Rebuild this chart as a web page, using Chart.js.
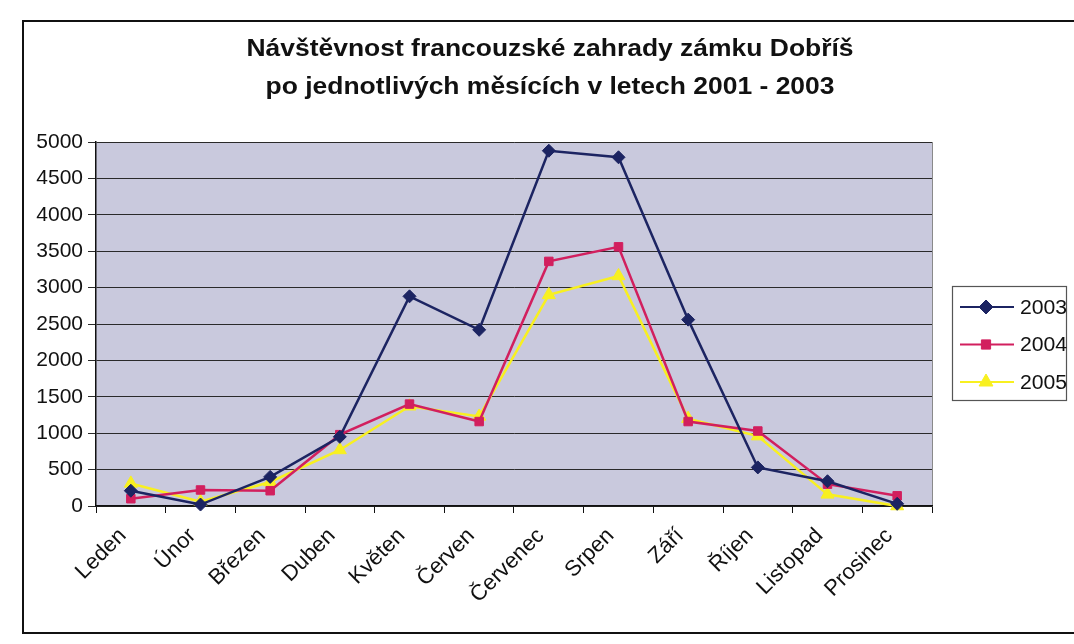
<!DOCTYPE html>
<html>
<head>
<meta charset="utf-8">
<script src="https://cdn.jsdelivr.net/npm/chart.js@4/dist/chart.umd.min.js"></script>
<style>
  html, body { margin: 0; padding: 0; background: #fff; overflow: hidden; }
  #frame { position: absolute; left: 22px; top: 20px; width: 1060px; height: 614px;
           border: 2px solid #111; box-sizing: border-box; }
  #wrap { position: absolute; left: 0; top: 0; width: 1050px; height: 610px; }
</style>
</head>
<body>
<div id="frame"><div id="wrap"><canvas id="c"></canvas></div></div>
<script>
const categories = ['Leden','Únor','Březen','Duben','Květen','Červen','Červenec','Srpen','Září','Říjen','Listopad','Prosinec'];
const seriesNames = ['2003','2004','2005'];
const v2003 = [210, 20, 400, 950, 2880, 2420, 4880, 4790, 2560, 530, 340, 30];
const v2004 = [100, 220, 210, 980, 1400, 1160, 3360, 3560, 1160, 1030, 300, 140];
const v2005 = [310, 60, 330, 770, 1370, 1230, 2900, 3160, 1200, 960, 160, 0];
const yTicks = [0, 500, 1000, 1500, 2000, 2500, 3000, 3500, 4000, 4500, 5000];
const titleLines = ['Návštěvnost francouzské zahrady zámku Dobříš', 'po jednotlivých měsících v letech 2001 - 2003'];

const colors = ['#1c2462', '#d21f5e', '#f8f020'];
const styles = ['rectRot', 'rect', 'triangle'];
const radii = [6.5, 6, 7.5];

const FONT = "'Liberation Sans', Arial, sans-serif";

const plotBg = {
  id: 'plotBg',
  beforeDraw(chart) {
    const {ctx, chartArea: a} = chart;
    ctx.save();
    ctx.fillStyle = '#c9c9dd';
    ctx.fillRect(a.left, a.top, a.right - a.left, a.bottom - a.top);
    ctx.strokeStyle = '#8a8a8a';
    ctx.lineWidth = 1;
    ctx.beginPath();
    ctx.moveTo(a.right + 0.5, a.top);
    ctx.lineTo(a.right + 0.5, a.bottom);
    ctx.stroke();
    ctx.restore();
  }
};

const stretchedTitle = {
  id: 'stretchedTitle',
  afterDraw(chart) {
    const ctx = chart.ctx;
    const cx = chart.width / 2 + 1;
    ctx.save();
    ctx.fillStyle = '#111';
    ctx.font = 'bold 23px ' + FONT;
    ctx.textAlign = 'center';
    ctx.textBaseline = 'middle';
    titleLines.forEach((line, i) => {
      ctx.save();
      ctx.translate(cx, 28 + i * 38);
      ctx.scale(1.15, 1);
      ctx.fillText(line, 0, 0);
      ctx.restore();
    });
    ctx.restore();
  }
};

const customLegend = {
  id: 'customLegend',
  afterDraw(chart) {
    const ctx = chart.ctx;
    const a = chart.chartArea;
    const bx = a.right + 20, by = 264, bw = 114, bh = 114;
    ctx.save();
    ctx.fillStyle = '#fff';
    ctx.fillRect(bx, by, bw, bh);
    ctx.strokeStyle = '#555';
    ctx.lineWidth = 1.2;
    ctx.strokeRect(bx + 0.5, by + 0.5, bw, bh);
    chart.data.datasets.forEach((ds, i) => {
      const y = by + 21 + i * 37.5;
      ctx.strokeStyle = ds.borderColor;
      ctx.lineWidth = 2;
      ctx.beginPath();
      ctx.moveTo(bx + 8, y);
      ctx.lineTo(bx + 62, y);
      ctx.stroke();
      ctx.fillStyle = ds.pointBackgroundColor;
      ctx.strokeStyle = ds.pointBorderColor;
      ctx.lineWidth = 1;
      Chart.helpers.drawPoint(ctx, {pointStyle: ds.pointStyle, radius: ds.pointRadius + 0.5, rotation: 0, borderWidth: 1}, bx + 34, y);
      ctx.fillStyle = '#111';
      ctx.font = '20px ' + FONT;
      ctx.textBaseline = 'middle';
      ctx.textAlign = 'left';
      ctx.save();
      ctx.translate(bx + 68, y + 1);
      ctx.scale(1.06, 1);
      ctx.fillText(ds.label, 0, 0);
      ctx.restore();
    });
    ctx.restore();
  }
};

const allSeries = [v2003, v2004, v2005];
const datasets = allSeries.map((vals, i) => ({
  label: seriesNames[i],
  data: vals,
  borderColor: colors[i],
  backgroundColor: colors[i],
  pointBackgroundColor: colors[i],
  pointBorderColor: colors[i],
  pointStyle: styles[i],
  pointRadius: radii[i],
  pointBorderWidth: 1,
  borderWidth: 2.5,
  tension: 0,
  clip: false
}));

new Chart(document.getElementById('c'), {
  type: 'line',
  data: { labels: categories, datasets },
  options: {
    responsive: true,
    maintainAspectRatio: false,
    animation: false,
    layout: { padding: { left: 0, right: 142, top: 120, bottom: 0 } },
    plugins: {
      legend: { display: false },
      tooltip: { enabled: false },
      title: { display: false }
    },
    scales: {
      x: {
        offset: true,
        afterFit(scale) { scale.height = 126; },
        grid: { offset: true, drawOnChartArea: false, color: '#111', tickLength: 7, tickWidth: 1 },
        border: { color: '#111', width: 1.5 },
        ticks: { color: '#111', font: { family: FONT, size: 22 }, maxRotation: 45, minRotation: 45, padding: 10, labelOffset: -8 }
      },
      y: {
        min: 0, max: 5000,
        afterBuildTicks(scale) { scale.ticks = yTicks.map(v => ({ value: v })); },
        afterFit(scale) { scale.width = 72; },
        grid: { color: '#2a2a2a', lineWidth: 1, tickLength: 8 },
        border: { color: '#111', width: 1.5 },
        ticks: { color: '#111', font: { family: FONT, size: 21 }, padding: 5,
                 callback: (v) => String(v) }
      }
    }
  },
  plugins: [plotBg, stretchedTitle, customLegend]
});
</script>
</body>
</html>
